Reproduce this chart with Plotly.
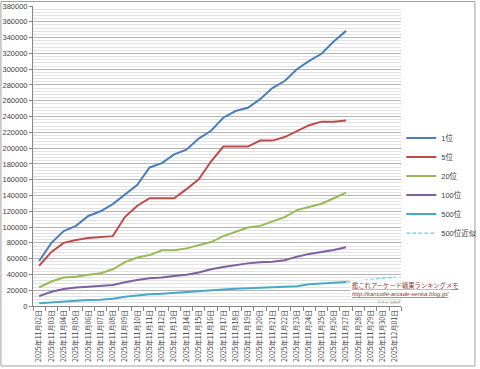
import plotly.graph_objects as go

dates = ["2025年11月%02d日" % d for d in range(2, 31)] + ["2025年12月01日"]

rank1 = [57000, 80000, 95000, 101500, 114000, 120000, 129000, 141500, 153500, 175500,
         181000, 192000, 198000, 212000, 222000, 238500, 247000, 251000, 262000, 276000,
         285000, 300000, 310500, 319500, 335000, 348500]
rank5 = [51000, 68500, 80000, 83500, 86000, 87500, 88500, 113000, 127000, 136500,
         136500, 136500, 148000, 160500, 183000, 202000, 202000, 202000, 209500, 209500,
         214000, 222000, 229000, 233500, 233500, 235000]
rank20 = [23500, 31000, 36000, 37000, 39500, 41500, 46500, 55500, 61500, 64500,
          70500, 70500, 73000, 77000, 81000, 88500, 94500, 99500, 101500, 107000,
          112500, 121500, 126000, 129500, 136500, 143500]
rank100 = [12500, 18000, 21500, 23500, 24500, 25500, 26500, 30000, 33000, 35000,
           36000, 38000, 39500, 42500, 46500, 49500, 52000, 54000, 55500, 56000,
           58000, 62500, 66000, 68500, 71000, 74500]
rank500 = [3500, 4700, 5900, 6800, 7600, 8000, 9300, 11800, 13500, 14800,
           15600, 16500, 17700, 18500, 19500, 21000, 22000, 22500, 23000, 23500,
           24000, 25000, 27500, 28500, 29500, 30500]
approx500 = [None] * 25 + [30500, 32000, 33600, 35100, 36700]

series = [
    ("1位", rank1, "#4A7EBB"),
    ("5位", rank5, "#BE4B48"),
    ("20位", rank20, "#98B954"),
    ("100位", rank100, "#7D60A0"),
    ("500位", rank500, "#46AAC5"),
]

fig = go.Figure()
for name, vals, color in series:
    fig.add_trace(go.Scatter(x=dates[:len(vals)], y=vals, name=name, mode="lines",
                             line=dict(color=color, width=2)))
fig.add_trace(go.Scatter(x=dates, y=approx500, name="500位近似", mode="lines",
                         line=dict(color="#6FC8E8", width=1.3, dash="4px,2px")))

fig.update_layout(
    width=480, height=369,
    margin=dict(l=33, r=75, t=6, b=63),
    paper_bgcolor="white", plot_bgcolor="white",
    font=dict(family="Liberation Sans, Noto Sans CJK JP", size=8, color="#404040"),
    showlegend=True,
    legend=dict(xref="container", yref="container", x=0.836, y=0.665,
                xanchor="left", yanchor="top",
                font=dict(size=7.5, color="#404040", family="Liberation Sans, Noto Sans CJK JP"),
                itemwidth=30, tracegroupgap=0, bgcolor="rgba(0,0,0,0)"),
    xaxis=dict(type="category", categoryorder="array", categoryarray=dates,
               range=[-0.5, 29.5], tickangle=-90, ticks="outside",
               tickson="boundaries", ticklen=4, tickcolor="#868686",
               showline=True, linecolor="#868686", showgrid=False, automargin=False,
               tickfont=dict(size=7, family="Noto Sans CJK JP", color="#404040")),
    yaxis=dict(range=[0, 380000], dtick=20000, tickformat="d", ticks="outside",
               ticklen=3, tickcolor="#868686", showline=True, linecolor="#868686",
               showgrid=True, gridcolor="#B3B3B3", gridwidth=1, zeroline=False,
               automargin=False,
               minor=dict(dtick=4000, showgrid=True, gridcolor="#E3E3E3", gridwidth=1),
               tickfont=dict(size=7.5, color="#404040", family="Liberation Sans")),
)

fig.add_annotation(xref="paper", yref="paper", x=0.862, y=0.068, xanchor="left",
                   yanchor="middle", showarrow=False,
                   text="<u>艦これアーケード戦果ランキングメモ</u>",
                   font=dict(size=6.3, color="#8B3A3A", family="Noto Sans CJK JP"),
                   bgcolor="rgba(255,255,255,0.8)")
fig.add_annotation(xref="paper", yref="paper", x=0.862, y=0.04, xanchor="left",
                   yanchor="middle", showarrow=False,
                   text="<u><i>http://kancolle-arcade-senka.blog.jp/</i></u>",
                   font=dict(size=6, color="#8B3A3A", family="Liberation Sans"),
                   bgcolor="rgba(255,255,255,0.8)")
fig.add_annotation(xref="paper", yref="paper", x=0.93, y=0.013, xanchor="left",
                   yanchor="middle", showarrow=False,
                   text="ｱｰｹｰﾄﾞﾗﾝｷﾝｸﾞ",
                   font=dict(size=4, color="#606060", family="Noto Sans CJK JP"))

fig.add_shape(type="rect", xref="paper", yref="paper", x0=-0.087, x1=1.2, y0=-0.2, y1=1.015,
              line=dict(color="#A0A0A0", width=1))

fig.write_html("out.html")
